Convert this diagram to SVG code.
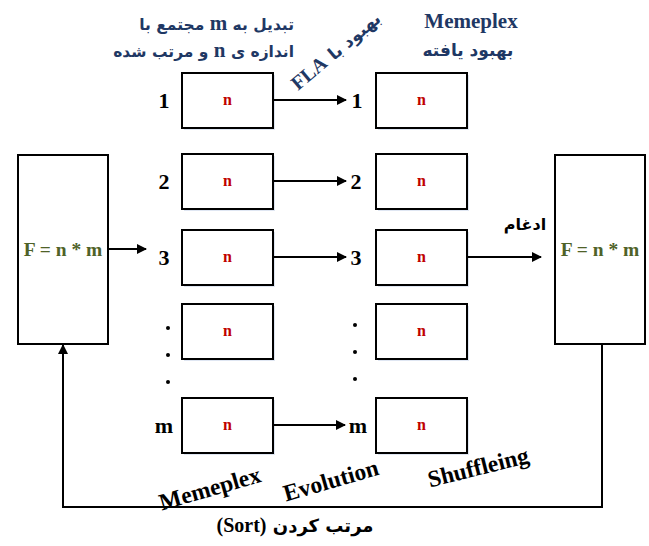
<svg xmlns="http://www.w3.org/2000/svg" width="649" height="546" viewBox="0 0 649 546">
<style>
.box{fill:#fff;stroke:#000;stroke-width:2}
.sh{fill:#dfe6f2;stroke:none}
.n{font-family:"Liberation Serif",serif;font-weight:bold;font-size:16px;fill:#c00000;text-anchor:middle}
.num{font-family:"Liberation Serif",serif;font-weight:bold;font-size:22px;fill:#000;text-anchor:middle}
.f{font-family:"Liberation Serif",serif;font-weight:bold;font-size:19.5px;fill:#4f6228;text-anchor:middle}
.lbl{font-family:"Liberation Serif",serif;font-weight:bold;font-size:23.5px;fill:#000;text-anchor:middle}
.fa{font-family:"DejaVu Sans",sans-serif;font-weight:bold}
.navy{fill:#1f3864}
.con{stroke:#000;stroke-width:2;fill:none}
.dot{fill:#000}
</style>
<defs>
<marker id="ah" viewBox="0 0 10 10" refX="9" refY="5" markerWidth="5" markerHeight="5" orient="auto" markerUnits="strokeWidth">
<path d="M0,0 L10,5 L0,10 z" fill="#000"/>
</marker>
</defs>

<g id="header">
<text x="294" y="30" class="fa navy" font-size="15.5" direction="rtl">تبدیل به <tspan font-family="Liberation Serif" font-size="21">m</tspan> مجتمع با</text>
<text x="294" y="57" class="fa navy" font-size="15.5" direction="rtl">اندازه ی <tspan font-family="Liberation Serif" font-size="21">n</tspan> و مرتب شده</text>
<text x="471" y="28" font-family="Liberation Serif" font-weight="bold" font-size="21" class="navy" text-anchor="middle">Memeplex</text>
<text x="468" y="56" class="fa navy" font-size="17" text-anchor="middle">بهبود یافته</text>
<g transform="translate(298,91) rotate(-40)">
<text x="0" y="0" font-family="Liberation Serif" font-weight="bold" font-size="20" class="navy">FLA</text>
<text x="47" y="0" class="fa navy" font-size="17">بهبود با</text>
</g>
</g>

<g id="left-big">
<rect x="18" y="155" width="90" height="189" class="box"/>
<text x="63" y="256" class="f">F = n * m</text>
</g>
<g id="right-big">
<rect x="555" y="155" width="90" height="189" class="box"/>
<text x="600" y="256" class="f">F = n * m</text>
</g>

<g id="l1"><rect x="184" y="75" width="91" height="55" class="sh"/><rect x="182" y="73" width="91" height="55" class="box"/><text x="227.5" y="105" class="n">n</text><text x="164" y="108" class="num">1</text></g>
<g id="l2"><rect x="184" y="156" width="91" height="55" class="sh"/><rect x="182" y="154" width="91" height="55" class="box"/><text x="227.5" y="186" class="n">n</text><text x="164" y="189" class="num">2</text></g>
<g id="l3"><rect x="184" y="232" width="91" height="55" class="sh"/><rect x="182" y="230" width="91" height="55" class="box"/><text x="227.5" y="262" class="n">n</text><text x="164" y="265" class="num">3</text></g>
<g id="l4"><rect x="184" y="306" width="91" height="55" class="sh"/><rect x="182" y="304" width="91" height="55" class="box"/><text x="227.5" y="336" class="n">n</text>
<circle cx="168" cy="328" r="2" class="dot"/><circle cx="168" cy="355" r="2" class="dot"/><circle cx="168" cy="382" r="2" class="dot"/></g>
<g id="lm"><rect x="184" y="400" width="91" height="55" class="sh"/><rect x="182" y="398" width="91" height="55" class="box"/><text x="227.5" y="430" class="n">n</text><text x="164" y="433" class="num">m</text></g>

<g id="r1"><rect x="378" y="75" width="91" height="55" class="sh"/><rect x="376" y="73" width="91" height="55" class="box"/><text x="421.5" y="105" class="n">n</text><text x="357" y="108" class="num">1</text></g>
<g id="r2"><rect x="378" y="156" width="91" height="55" class="sh"/><rect x="376" y="154" width="91" height="55" class="box"/><text x="421.5" y="186" class="n">n</text><text x="356" y="189" class="num">2</text></g>
<g id="r3"><rect x="378" y="232" width="91" height="55" class="sh"/><rect x="376" y="230" width="91" height="55" class="box"/><text x="421.5" y="262" class="n">n</text><text x="356" y="265" class="num">3</text></g>
<g id="r4"><rect x="378" y="306" width="91" height="55" class="sh"/><rect x="376" y="304" width="91" height="55" class="box"/><text x="421.5" y="336" class="n">n</text>
<circle cx="355" cy="325" r="2" class="dot"/><circle cx="355" cy="352" r="2" class="dot"/><circle cx="355" cy="379" r="2" class="dot"/></g>
<g id="rm"><rect x="378" y="400" width="91" height="55" class="sh"/><rect x="376" y="398" width="91" height="55" class="box"/><text x="421.5" y="430" class="n">n</text><text x="358" y="433" class="num">m</text></g>

<g id="connectors">
<line x1="108" y1="249" x2="146" y2="249" class="con" marker-end="url(#ah)"/>
<line x1="273" y1="100" x2="346" y2="100" class="con" marker-end="url(#ah)"/>
<line x1="273" y1="181" x2="346" y2="181" class="con" marker-end="url(#ah)"/>
<line x1="273" y1="257" x2="346" y2="257" class="con" marker-end="url(#ah)"/>
<line x1="273" y1="425" x2="345" y2="425" class="con" marker-end="url(#ah)"/>
<line x1="467" y1="257" x2="541" y2="257" class="con" marker-end="url(#ah)"/>
<polyline points="602,344 602,507 63,507 63,345" class="con" marker-end="url(#ah)"/>
</g>

<g id="labels">
<text x="525" y="230" class="fa" font-size="16" text-anchor="middle">ادغام</text>
<text transform="translate(212,496) rotate(-16)" class="lbl">Memeplex</text>
<text transform="translate(333,488) rotate(-16)" class="lbl">Evolution</text>
<text transform="translate(480,475) rotate(-14)" class="lbl">Shuffleing</text>
<text x="295" y="532" class="fa" font-size="18" text-anchor="middle" direction="rtl">مرتب کردن <tspan font-family="Liberation Serif" font-size="20">(Sort)</tspan></text>
</g>
</svg>
